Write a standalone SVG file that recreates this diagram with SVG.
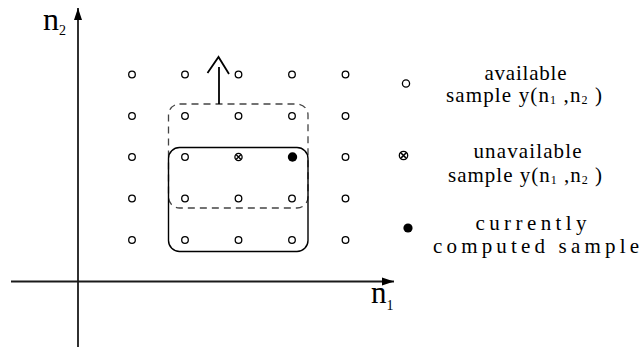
<svg xmlns="http://www.w3.org/2000/svg" width="642" height="347" viewBox="0 0 642 347">
  <defs>
    <style>
      .axis { stroke: #1a1a1a; stroke-width: 1.8; fill: none; }
      .pt { fill: #fff; stroke: #000; stroke-width: 1.3; }
      .dot { fill: #000; }
      .frame { fill: none; stroke: #000; stroke-width: 1.4; }
      .dash { fill: none; stroke: #444; stroke-width: 1.3; stroke-dasharray: 7 5; }
      text { font-family: "Liberation Serif", "DejaVu Serif", serif; fill: #000; }
      .leg { font-size: 21px; text-anchor: middle; }
      .sub { font-size: 12px; }
    </style>
    <marker id="head" viewBox="0 0 12 10" refX="12" refY="5" markerWidth="12" markerHeight="10" markerUnits="userSpaceOnUse" orient="auto">
      <path d="M0,1 L12,5 L0,9 Z" fill="#000"/>
    </marker>
  </defs>

  <!-- axes -->
  <g id="axes">
    <line class="axis" x1="11" y1="281.5" x2="394" y2="281.5" marker-end="url(#head)"/>
    <line class="axis" x1="78" y1="347" x2="78" y2="8" marker-end="url(#head)"/>
    <text x="43" y="29.5" font-size="32">n<tspan font-size="14" dy="5">2</tspan></text>
    <text x="371" y="302.5" font-size="31">n<tspan font-size="14" dy="7">1</tspan></text>
  </g>

  <!-- sample grid -->
  <g id="grid">
    <circle class="pt" cx="132" cy="74.5" r="3.3"/>
    <circle class="pt" cx="185" cy="74.5" r="3.3"/>
    <circle class="pt" cx="238.5" cy="74.5" r="3.3"/>
    <circle class="pt" cx="292" cy="74.5" r="3.3"/>
    <circle class="pt" cx="345.5" cy="74.5" r="3.3"/>

    <circle class="pt" cx="132" cy="116" r="3.3"/>
    <circle class="pt" cx="185" cy="116" r="3.3"/>
    <circle class="pt" cx="238.5" cy="116" r="3.3"/>
    <circle class="pt" cx="292" cy="116" r="3.3"/>
    <circle class="pt" cx="345.5" cy="116" r="3.3"/>

    <circle class="pt" cx="132" cy="157" r="3.3"/>
    <circle class="pt" cx="185" cy="157" r="3.3"/>
    <circle class="pt" cx="345.5" cy="157" r="3.3"/>

    <circle class="pt" cx="132" cy="198.5" r="3.3"/>
    <circle class="pt" cx="185" cy="198.5" r="3.3"/>
    <circle class="pt" cx="238.5" cy="198.5" r="3.3"/>
    <circle class="pt" cx="292" cy="198.5" r="3.3"/>
    <circle class="pt" cx="345.5" cy="198.5" r="3.3"/>

    <circle class="pt" cx="132" cy="240" r="3.3"/>
    <circle class="pt" cx="185" cy="240" r="3.3"/>
    <circle class="pt" cx="238.5" cy="240" r="3.3"/>
    <circle class="pt" cx="292" cy="240" r="3.3"/>
    <circle class="pt" cx="345.5" cy="240" r="3.3"/>
  </g>

  <!-- unavailable sample -->
  <g id="unavailable">
    <circle class="pt" cx="238.5" cy="157" r="3.6"/>
    <path d="M236,154.5 L241,159.5 M241,154.5 L236,159.5" stroke="#000" stroke-width="1.3"/>
  </g>

  <!-- current sample -->
  <g id="current">
    <circle class="dot" cx="292.5" cy="157" r="4.7"/>
  </g>

  <!-- support windows -->
  <g id="windows">
    <rect class="dash" x="168.5" y="104" width="139.5" height="104" rx="11"/>
    <rect class="frame" x="168.5" y="147.5" width="139.5" height="104" rx="11"/>
  </g>

  <!-- shift direction -->
  <g id="connectors">
    <line x1="219" y1="104" x2="219" y2="67" stroke="#000" stroke-width="1.8"/>
    <polyline points="207.5,73 218.5,57 229,74" fill="none" stroke="#000" stroke-width="1.8"/>
  </g>

  <!-- legend -->
  <g id="legend-available">
    <circle class="pt" cx="406" cy="83.5" r="3.6"/>
    <text class="leg" x="525.5" y="79.5" textLength="82" lengthAdjust="spacing">available</text>
    <text class="leg" x="524" y="102" textLength="156" lengthAdjust="spacing">sample y(n<tspan class="sub" dy="2">1</tspan><tspan dy="-2"> ,n</tspan><tspan class="sub" dy="2">2</tspan><tspan dy="-2"> )</tspan></text>
  </g>
  <g id="legend-unavailable">
    <circle class="pt" cx="403.5" cy="155.5" r="4.2" stroke-width="1.7"/>
    <path d="M400.5,152.5 L406.5,158.5 M406.5,152.5 L400.5,158.5" stroke="#000" stroke-width="1.6"/>
    <text class="leg" x="527.5" y="158" textLength="108" lengthAdjust="spacing">unavailable</text>
    <text class="leg" x="525" y="182" textLength="154" lengthAdjust="spacing">sample y(n<tspan class="sub" dy="2">1</tspan><tspan dy="-2"> ,n</tspan><tspan class="sub" dy="2">2</tspan><tspan dy="-2"> )</tspan></text>
  </g>
  <g id="legend-current">
    <circle class="dot" cx="408" cy="228" r="4.6"/>
    <text class="leg" x="531" y="230" font-size="19" textLength="111" lengthAdjust="spacing">currently</text>
    <text class="leg" x="536" y="252.5" font-size="19" textLength="206" lengthAdjust="spacing">computed sample</text>
  </g>
</svg>
